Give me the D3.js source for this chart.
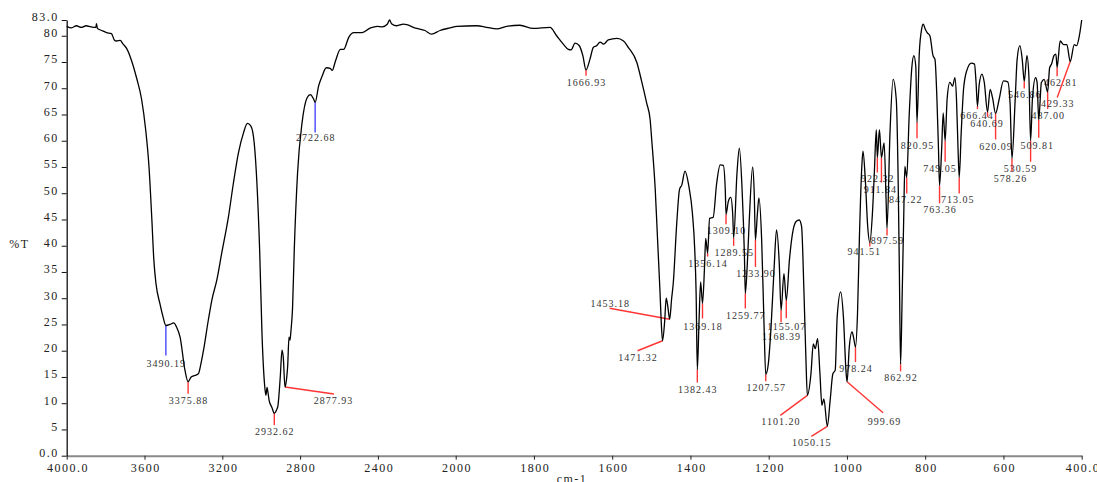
<!DOCTYPE html>
<html>
<head>
<meta charset="utf-8">
<script src="https://cdn.jsdelivr.net/npm/d3@7"></script>
<style>
  html, body { margin: 0; padding: 0; background: #fff; }
  svg { display: block; }
</style>
</head>
<body>
<div id="chart"></div>
<script>
// IR spectrum, %T against wavenumber (cm-1)
const wavenumber = [
  4000, 3975, 3950, 3925, 3900, 3875, 3850, 3847, 3842, 3820, 3795, 3770, 3755, 3744, 3725, 3710, 3692,
  3666, 3641, 3615, 3594, 3577, 3563, 3552, 3541, 3521, 3505, 3490.19, 3469, 3450, 3435, 3417, 3392,
  3375.88, 3360, 3340, 3323, 3310, 3297, 3272, 3254, 3228, 3203, 3168, 3143, 3117, 3091, 3071, 3053,
  3036, 3022, 3008, 2996, 2983, 2976, 2970, 2965, 2959, 2945, 2932.62, 2920, 2914, 2902, 2893, 2886,
  2877.93, 2870, 2864, 2857, 2852, 2847, 2839, 2830, 2813, 2790, 2764, 2747, 2730, 2722.68, 2705, 2687,
  2665, 2645, 2635, 2618, 2593, 2576, 2550, 2524, 2481, 2438, 2403, 2378, 2352, 2340, 2330, 2303, 2269,
  2201, 2158, 2124, 2081, 2029, 1997, 1946, 1921, 1895, 1870, 1836, 1802, 1759, 1742, 1725, 1712, 1705,
  1695, 1684, 1675, 1666.93, 1657, 1648, 1640, 1631, 1622, 1610, 1588, 1571, 1559, 1537, 1525, 1512,
  1503, 1499, 1490, 1484, 1478, 1474, 1471.32, 1466, 1462, 1458, 1453.18, 1448, 1444, 1435, 1428, 1422,
  1414, 1404, 1395, 1389, 1385.5, 1382.43, 1378, 1374, 1369.18, 1364, 1361, 1356.14, 1351, 1342, 1333,
  1324, 1316, 1311, 1309.10, 1303, 1297, 1292, 1289.55, 1281, 1275, 1268, 1262, 1259.77, 1255, 1250,
  1241, 1237, 1233.90, 1229, 1225, 1218, 1212, 1207.57, 1201, 1194, 1186, 1180, 1173, 1168.39, 1161,
  1155.07, 1147, 1139, 1130, 1122, 1116, 1110, 1105, 1101.20, 1092, 1086, 1081, 1075, 1069, 1064, 1059,
  1050.15, 1043, 1036, 1030, 1025, 1016, 1009, 1002, 999.69, 994, 987, 983, 978.24, 973, 968, 962, 959,
  953, 947, 941.51, 935, 930, 925, 922.32, 917, 911.84, 905, 900, 897.59, 890, 882, 874, 869, 866,
  862.92, 859, 855, 852, 847.22, 841, 834, 829, 824, 820.95, 815, 809, 805, 800, 795, 788, 780, 775,
  770, 766, 763.36, 758, 754, 749.05, 744, 737, 730, 724, 720, 716, 713.05, 708, 702, 694, 682, 674,
  670, 666.44, 662, 655, 649, 640.69, 634, 628, 620.09, 611, 600, 589, 583, 578.26, 570, 565, 558, 552,
  546.86, 540, 535, 530.59, 526, 518, 514, 509.81, 503, 496, 487.00, 482, 477, 471, 466, 462.81, 455,
  446, 438, 429.33, 419, 413, 406, 400
];
const transmittance = [
  81.8, 81.5, 81.9, 81.6, 81.9, 81.7, 81.6, 82.3, 81.4, 81.0, 80.6, 80.4, 79.2, 79.0, 79.1, 78.4, 77.6,
  75.2, 72.0, 67.9, 62.1, 55.1, 45.6, 37.3, 32.8, 29.0, 26.5, 24.8, 25.0, 25.3, 24.5, 22.6, 16.3,
  14.1, 15.0, 15.3, 15.6, 17.5, 20.0, 25.8, 29.6, 33.5, 38.6, 45.6, 51.9, 57.7, 61.5, 63.3, 62.8,
  59.6, 51.9, 39.2, 23.3, 13.7, 11.5, 13.0, 12.0, 10.5, 9.2, 8.1, 8.8, 9.5, 15.0, 20.1, 18.5,
  13.1, 14.5, 17.0, 22.6, 22.0, 23.8, 28.0, 39.2, 53.9, 63.4, 68.2, 68.8, 67.9, 67.3, 70.4, 72.3,
  73.9, 73.8, 73.4, 75.2, 77.4, 77.4, 79.7, 80.6, 80.6, 81.5, 81.8, 81.7, 82.2, 83.0, 82.3, 81.9, 82.2,
  81.4, 81.0, 80.3, 81.0, 81.5, 81.8, 81.9, 81.6, 81.3, 81.8, 82.0, 81.4, 81.6, 80.0, 78.4, 77.4, 77.3,
  78.6, 78.1, 76.2, 73.5, 75.5, 77.8, 78.1, 78.8, 78.4, 79.2, 79.5, 79.0, 77.8, 74.9, 71.4, 67.2,
  64.0, 60.2, 50.7, 41.1, 31.5, 24.5, 21.9, 25.5, 30.0, 28.5, 26.0, 30.0, 32.8, 44.3, 50.7, 51.6,
  54.2, 51.3, 46.2, 39.2, 31.0, 16.4, 25.8, 33.1, 29.0, 36.0, 41.4, 38.6, 45.2, 45.4, 51.9,
  55.4, 55.3, 50.7, 46.0, 48.5, 49.2, 46.0, 41.5, 53.9, 58.6, 50.7, 38.0, 30.9, 36.0, 44.3,
  55.0, 50.0, 41.1, 46.0, 49.1, 41.1, 25.2, 15.5, 17.5, 24.5, 36.0, 43.0, 36.6, 27.7, 34.7,
  29.6, 37.3, 42.4, 44.6, 44.9, 43.7, 31.5, 18.8, 11.5, 15.6, 21.3, 20.4, 22.3, 15.6, 9.6, 10.8,
  5.6, 10.5, 15.6, 16.3, 26.4, 31.2, 26.4, 15.6, 14.1, 20.7, 23.6, 22.5, 20.7, 27.1, 42.0, 55.1, 58.0,
  52.5, 43.7, 40.6, 46.0, 53.9, 62.1, 56.8, 62.1, 56.8, 59.6, 48.8, 43.3, 61.5, 71.7, 67.9, 51.9, 35.0,
  17.4, 30.0, 45.0, 55.1, 53.0, 64.7, 74.1, 76.2, 74.1, 63.5, 76.8, 81.3, 82.2, 81.3, 80.6, 80.0, 76.2, 75.5,
  67.9, 58.3, 51.5, 58.3, 65.3, 60.0, 67.9, 71.1, 70.4, 72.0, 67.9, 58.3, 53.0, 61.5, 69.8, 73.3, 74.8, 74.6,
  71.1, 66.6, 70.7, 72.7, 71.1, 65.5, 69.8, 68.2, 65.2, 67.9, 71.4, 71.2, 67.0, 56.6, 67.9, 75.5, 78.1, 75.5,
  71.3, 76.2, 72.3, 60.0, 67.9, 72.0, 71.1, 64.0, 71.1, 71.7, 69.3, 73.9, 74.6, 76.2, 76.5, 74.0, 79.0,
  78.3, 78.3, 75.1, 78.3, 78.1, 80.0, 83.0
];

const xTicks = [4000, 3600, 3200, 2800, 2400, 2000, 1800, 1600, 1400, 1200, 1000, 800, 600, 400];
const yTicks = [0, 5, 10, 15, 20, 25, 30, 35, 40, 45, 50, 55, 60, 65, 70, 75, 80, 83];

// peak labels, the ones in bluePeaks get a blue marker
const peakLabels = [
  '3490.19', '3375.88', '2932.62', '2877.93', '2722.68', '1666.93', '1471.32', '1453.18', '1382.43',
  '1369.18', '1356.14', '1309.10', '1289.55', '1259.77', '1233.90', '1207.57', '1168.39', '1155.07',
  '1101.20', '1050.15', '999.69', '978.24', '941.51', '922.32', '911.84', '897.59', '862.92', '847.22',
  '820.95', '763.36', '749.05', '713.05', '666.44', '640.69', '620.09', '578.26', '546.86', '530.59',
  '509.81', '487.00', '462.81', '429.33'
];
const bluePeaks = ['3490.19', '2722.68'];

// leader line end [dx, dy] and text offset [tdx, tdy] from the peak, in pixels (layout only)
const labelLayout = [
  [0, 30, 0, 11], [0, 12, 0, 10], [0, 12, 0, 10], [49, 7, -1, 10], [0, 30, 0, 9], [0, 6, 0, 10.5],
  [-25, 10, 0, 10], [-60, -11, 0, -1], [0, 13, 0, 10], [0, 15, 0, 11.5], [0, 3.5, 0, 10], [0, 10, 0, 10],
  [0, 8, 0, 10], [0, 15, 0, 10.5], [0, 27, 0, 10], [0, 7, 0, 10], [0, 12, 0, 18], [0, 18, 0, 12],
  [-27, 20, 0, 10], [-16, 10, 0, 10], [36, 31, 1, 12], [0, 15, 0, 10], [0, 4, -6, 8], [0, 15, 0, 9],
  [0, 25, -1.5, 10], [0, 7, 0, 9], [0, 7, 0, 10], [0, 16, -1.5, 10], [0, 16, 0, 11], [0, 18, 0, 10],
  [0, 21, -5.7, 10], [0, 16, -2, 10], [0, 3, -1, 10], [0, 5, -1, 10], [0, 26, 0, 11], [0, 13, -2, 10],
  [0, 7, 0, 10], [0, 21, -10.7, 10], [0, 18, -2, 11], [0, 17, 0, 10], [0, 9, 3, 10], [-13, 36, 0, 10]
];

const width = 1097, height = 482;
const serif = '"Liberation Serif", "Times New Roman", serif';

const svg = d3.select('#chart').append('svg')
  .attr('width', width)
  .attr('height', height);

// wavenumber axis changes scale at 2000
const x = d3.scaleLinear().domain([4000, 2000, 400]).range([66.7, 455.7, 1081.7]);
const y = d3.scaleLinear().domain([0, 83]).range([455.7, 20]);

// axes
const xAxis = svg.append('g')
  .attr('transform', `translate(0, ${y(0)})`)
  .call(d3.axisBottom(x).tickValues(xTicks).tickSize(4).tickPadding(3.5).tickSizeOuter(0)
    .tickFormat(d => (d === 4000 || d === 400) ? d3.format('.1f')(d) : d));
xAxis.select('.domain').attr('stroke', '#8a8a8a').attr('stroke-width', 2);
xAxis.selectAll('.tick line').attr('stroke', '#222');
xAxis.selectAll('.tick text')
  .attr('fill', '#222').attr('dx', '0.75px')
  .style('font-family', serif).style('font-size', '12px').style('letter-spacing', '1.5px');

const yAxis = svg.append('g')
  .attr('transform', `translate(${x(4000)}, 0)`)
  .call(d3.axisLeft(y).tickValues(yTicks).tickSize(5).tickPadding(3).tickSizeOuter(0)
    .tickFormat(d => (d === 0 || d === 83) ? d3.format('.1f')(d) : d));
yAxis.select('.domain').attr('stroke', '#111').attr('stroke-width', 1.3);
yAxis.selectAll('.tick line').attr('stroke', '#111');
yAxis.selectAll('.tick text')
  .attr('fill', '#222').attr('dy', '0.08em')
  .style('font-family', serif).style('font-size', '12px').style('letter-spacing', '1.5px');

svg.append('text')
  .attr('x', 19.5).attr('y', 248)
  .attr('text-anchor', 'middle')
  .attr('fill', '#222')
  .style('font-family', serif).style('font-size', '12px').style('letter-spacing', '1.5px')
  .text('%T');

svg.append('text')
  .attr('x', 572).attr('y', 483)
  .attr('text-anchor', 'middle')
  .attr('fill', '#222')
  .style('font-family', serif).style('font-size', '12px').style('letter-spacing', '1.5px')
  .text('cm-1');

// spectrum
const points = wavenumber.map((w, i) => [w, transmittance[i]]);
const line = d3.line()
  .x(d => x(d[0]))
  .y(d => y(d[1]))
  .curve(d3.curveMonotoneX);

// peak markers go under the trace
const peaks = peakLabels.map((lab, i) => {
  const w = +lab;
  const idx = wavenumber.indexOf(w);
  const [dx, dy, tdx, tdy] = labelLayout[i];
  const px = x(w), py = y(transmittance[idx]);
  return { lab, px, py, ex: px + dx, ey: py + dy, tx: px + dx + tdx, ty: py + dy + tdy };
});

const marks = svg.append('g');
marks.selectAll('line')
  .data(peaks)
  .enter()
  .append('line')
  .attr('x1', d => d.px).attr('y1', d => d.py)
  .attr('x2', d => d.ex).attr('y2', d => d.ey)
  .attr('stroke', d => bluePeaks.includes(d.lab) ? '#4646ff' : '#ff3535')
  .attr('stroke-width', 1.4);

svg.append('path')
  .datum(points)
  .attr('d', line)
  .attr('fill', 'none')
  .attr('stroke', '#000')
  .attr('stroke-width', 1.3)
  .attr('stroke-linejoin', 'round');

marks.selectAll('text')
  .data(peaks)
  .enter()
  .append('text')
  .attr('x', d => d.tx + 0.5).attr('y', d => d.ty)
  .attr('text-anchor', 'middle')
  .attr('fill', '#333')
  .style('font-family', serif).style('font-size', '10px').style('letter-spacing', '1px')
  .text(d => d.lab);
</script>
</body>
</html>
